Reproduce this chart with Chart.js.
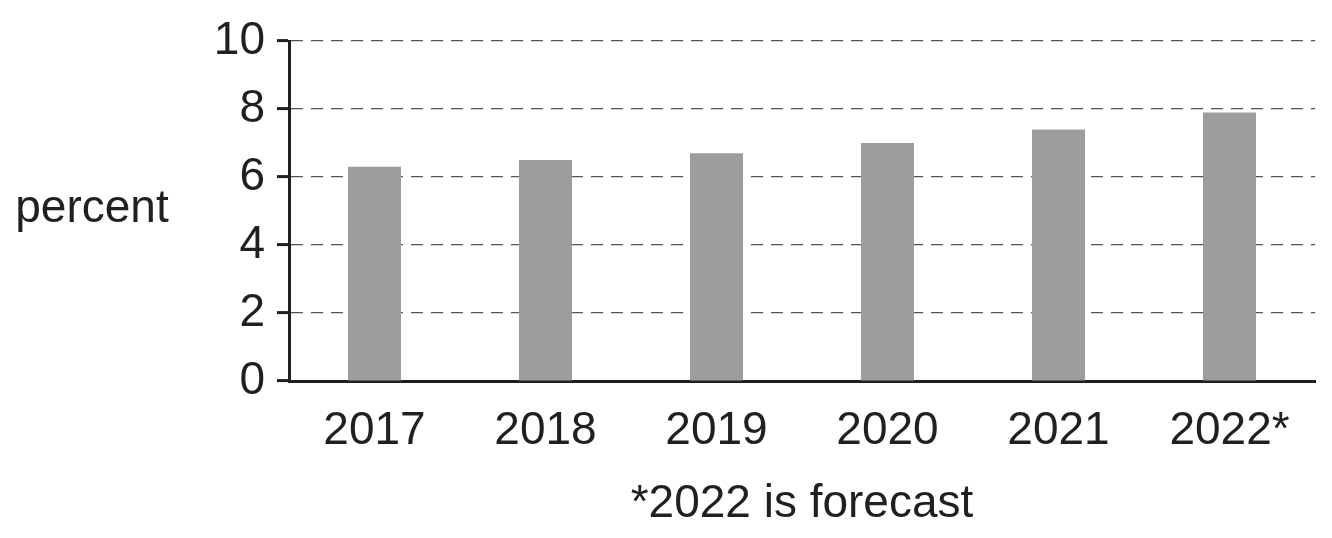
<!DOCTYPE html>
<html>
<head>
<meta charset="utf-8">
<script src="https://cdn.jsdelivr.net/npm/chart.js@4"></script>
<style>
  html, body { margin: 0; padding: 0; background: #fff; }
  canvas { display: block; }
</style>
</head>
<body>
<canvas id="bar-chart" width="1332" height="538"></canvas>
<script>
const years = ['2017', '2018', '2019', '2020', '2021', '2022*']
const percentValues = [6.3, 6.5, 6.7, 7.0, 7.4, 7.9]
const yTicks = [0, 2, 4, 6, 8, 10]

const textColor = '#231f20'
const fontFamily = '"Liberation Sans", Arial, sans-serif'

// horizontal "percent" label left of the y axis
const sideLabel = {
    id: 'sideLabel',
    afterDraw(chart) {
        const ctx = chart.ctx
        ctx.save()
        ctx.fillStyle = textColor
        ctx.font = '46px ' + fontFamily
        ctx.textAlign = 'center'
        ctx.textBaseline = 'alphabetic'
        ctx.fillText('percent', 92, 222)
        ctx.restore()
    }
}

const ctx = document.getElementById('bar-chart')

new Chart(ctx, {
    type: 'bar',
    data: {
        labels: years,
        datasets: [{
            label: 'percent',
            data: percentValues,
            backgroundColor: '#9d9d9d',
            borderWidth: 0,
            barPercentage: 0.31,
            categoryPercentage: 1.0
        }]
    },
    options: {
        responsive: false,
        devicePixelRatio: 1,
        animation: false,
        layout: {
            padding: { left: 0, top: 41, right: 17, bottom: 0 }
        },
        plugins: {
            legend: { display: false },
            tooltip: { enabled: false }
        },
        scales: {
            x: {
                grid: { display: false },
                border: { display: true, color: '#231f20', width: 3 },
                ticks: {
                    color: textColor,
                    font: { family: fontFamily, size: 46 },
                    padding: 15,
                    maxRotation: 0,
                    autoSkip: false
                },
                title: {
                    display: true,
                    text: '*2022 is forecast',
                    color: textColor,
                    font: { family: fontFamily, size: 46 },
                    padding: { top: 0, bottom: 6 }
                },
                afterFit(scale) {
                    scale.height = 157
                }
            },
            y: {
                min: 0,
                max: 10,
                afterBuildTicks(scale) {
                    scale.ticks = yTicks.map(v => ({ value: v }))
                },
                grid: {
                    color: '#555',
                    lineWidth: 1.2,
                    drawTicks: true,
                    tickLength: 12,
                    tickColor: '#231f20',
                    tickWidth: 3
                },
                border: { display: true, color: '#231f20', width: 3, dash: [12, 8] },
                ticks: {
                    color: textColor,
                    font: { family: fontFamily, size: 46 },
                    padding: 12
                },
                afterFit(scale) {
                    scale.width = 289
                }
            }
        }
    },
    plugins: [sideLabel]
})
</script>
</body>
</html>
